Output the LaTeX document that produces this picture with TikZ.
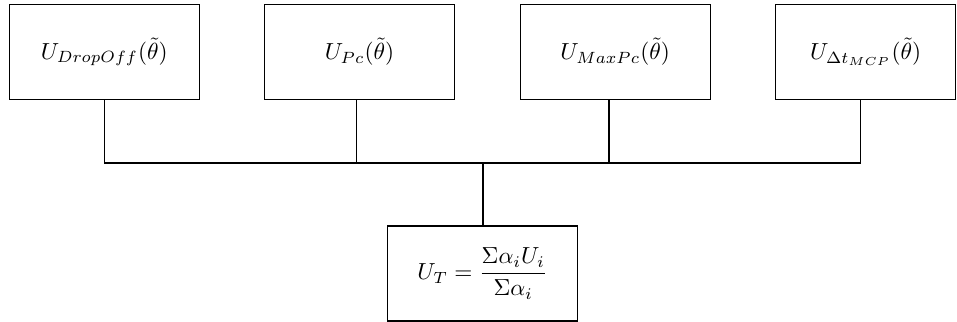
\documentclass[tikz,border=0pt]{standalone}
\usepackage{amsmath}
\begin{document}
\begin{tikzpicture}[x=0.43pt,y=-0.43pt,
  boxnode/.style={draw, line width=0.6pt, inner sep=0pt, outer sep=0pt,
    minimum width=81.7pt, minimum height=40.85pt, align=center},
  wire/.style={line width=0.6pt}]
\useasboundingbox (0,0) rectangle (957,322);
\node[boxnode] (b1) at (104.3,51.7) {$U_{DropOff}(\tilde{\theta})$};
\node[boxnode] (b2) at (359.5,51.7) {$U_{Pc}(\tilde{\theta})$};
\node[boxnode] (b3) at (615.2,51.7) {$U_{MaxPc}(\tilde{\theta})$};
\node[boxnode, minimum width=77.4pt] (b4) at (865.7,51.7) {$U_{\Delta t_{MCP}}(\tilde{\theta})$};
\node[boxnode] (bt) at (482.5,273.5) {$U_T = \dfrac{\Sigma\alpha_i U_i}{\Sigma\alpha_i}$};
\coordinate (j1) at (104.3,163);
\coordinate (j2) at (356.7,163);
\coordinate (j3) at (609,163);
\coordinate (j4) at (860.7,163);
\coordinate (jc) at (483,163);
\draw[wire] (j1 |- b1.south) -- (j1) -- (j4) -- (j4 |- b4.south);
\draw[wire] (j2 |- b2.south) -- (j2);
\draw[wire] (j3 |- b3.south) -- (j3);
\draw[wire] (jc) -- (jc |- bt.north);
\end{tikzpicture}
\end{document}
